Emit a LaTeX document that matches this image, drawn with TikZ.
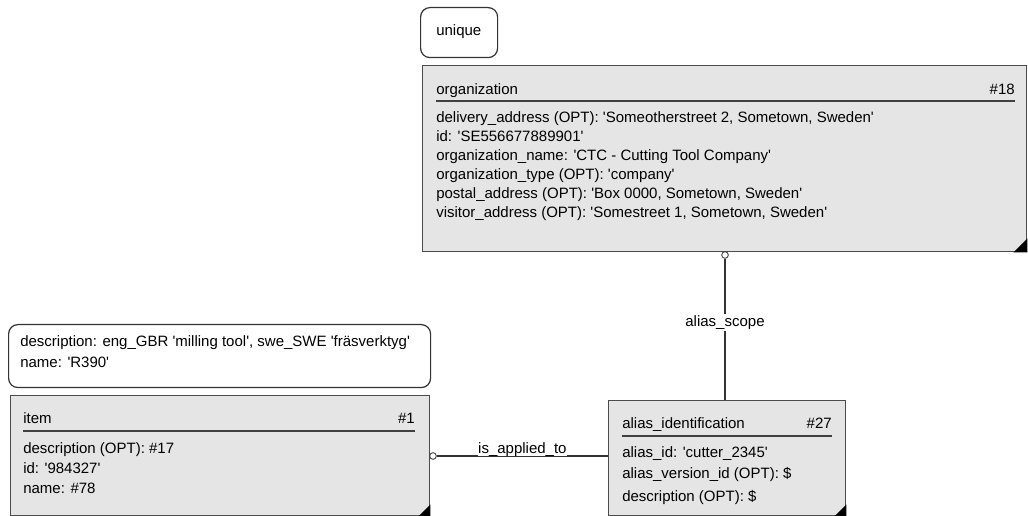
\documentclass[tikz,border=0pt]{standalone}
\usepackage{fontspec}
\newfontfamily\uifont{Liberation Sans}
\newcommand\uitext{\uifont\fontsize{11.25}{15}\selectfont}
\usetikzlibrary{positioning}

\begin{document}
\begin{tikzpicture}
		[x=0.75pt, y=-0.75pt,
		box/.style 2 args ={minimum width=#1*0.75pt, minimum height=#2*0.75pt},
		entity/.style ={rectangle, draw=black!70, line width=1.1pt, fill=black!10, anchor=north west, inner sep=0pt},
		note/.style ={rectangle, draw=black!80, line width=0.9pt, rounded corners=7pt, anchor=north west, inner sep=0pt},
		attr/.style ={anchor=base west, inner sep=0pt, font=\uitext},
		ref/.style ={anchor=base east, inner sep=0pt, font=\uitext},
		rule/.style ={draw=black!75, line width=1.1pt},
		link/.style ={draw=black!80, line width=0.8pt},
		ring/.style ={circle, draw=black!80, fill=white, line width=0.6pt, inner sep=0pt, minimum size=5pt},
		corner/.style ={fill=black}]
		\useasboundingbox (0,0) rectangle (1028,516);

		\node[note, box={77}{50}] (uniquenote) at (420,7) {};
		\node[attr] (uniquetxt) at (436,36) {unique};

		\node[entity, box={604}{186}] (org) at (422,65) {};
		\node[attr] (orgtitle) at (436,95) {organization};
		\node[ref] (orgref) at (1015,95) {\#18};
		\draw[rule] (436,101) -- (1015,101);
		\foreach \t [count=\i] in {{delivery\_address (OPT): 'Someotherstreet 2, Sometown, Sweden'},
			{id: 'SE556677889901'},
			{organization\_name: 'CTC - Cutting Tool Company'},
			{organization\_type (OPT): 'company'},
			{postal\_address (OPT): 'Box 0000, Sometown, Sweden'},
			{visitor\_address (OPT): 'Somestreet 1, Sometown, Sweden'}}
			\node[attr] (orgattr\i) at (436,104+19*\i) {\t};
		\fill[corner] (org.south east) -- ++(-14,0) -- ++(14,-14) -- cycle;

		\node[note, box={422}{63}] (itemnote) at (8,324) {};
		\node[attr] (itemnote1) at (20,347) {description: eng\_GBR 'milling tool', swe\_SWE 'fräsverktyg'};
		\node[attr] (itemnote2) at (20,368) {name: 'R390'};

		\node[entity, box={419}{120}] (item) at (10,395) {};
		\node[attr] (itemtitle) at (23,424) {item};
		\node[ref] (itemref) at (415,424) {\#1};
		\draw[rule] (23,431) -- (415,431);
		\foreach \t [count=\i] in {{description (OPT): \#17}, {id: '984327'}, {name: \#78}}
			\node[attr] (itemattr\i) at (23,433+20*\i) {\t};
		\fill[corner] (item.south east) -- ++(-12,0) -- ++(12,-12) -- cycle;

		\node[entity, box={237}{115}] (alias) at (608,400) {};
		\node[attr] (aliastitle) at (622,428) {alias\_identification};
		\node[ref] (aliasref) at (832,428) {\#27};
		\draw[rule] (622,436) -- (832,436);
		\foreach \t [count=\i] in {{alias\_id: 'cutter\_2345'}, {alias\_version\_id (OPT): \$}, {description (OPT): \$}}
			\node[attr] (aliasattr\i) at (622,435+22*\i) {\t};
		\fill[corner] (alias.south east) -- ++(-12,0) -- ++(12,-12) -- cycle;

		\node[ring] (scopering) at (725,255) {};
		\draw[link] (scopering) -- (scopering |- alias.north)
			node[pos=0.45, fill=white, inner sep=1pt, font=\uitext] (scopelabel) {alias\_scope};

		\node[ring] (appliedring) at (433,456) {};
		\draw[link] (appliedring) -- (appliedring -| alias.west)
			node[midway, anchor=base, yshift=2pt, fill=white, inner sep=0pt, font=\uitext] (appliedlabel) {is\_applied\_to};

	\end{tikzpicture}
\end{document}
